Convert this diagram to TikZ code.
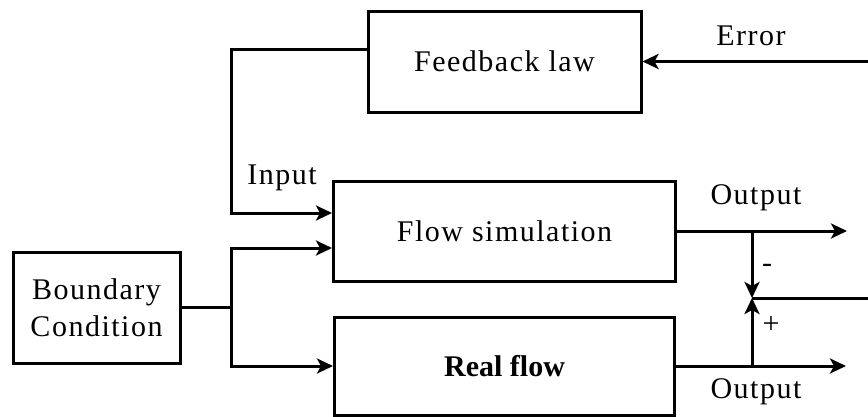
\documentclass[tikz,border=0pt]{standalone}
\usepackage{fontspec}
\setmainfont{Liberation Serif}
\usetikzlibrary{positioning,arrows.meta}
\tikzset{
  line/.style={-{Stealth[length=16pt,width=15pt,inset=4pt]}, line width=3pt},
  wire/.style={line width=3pt},
  txt/.style={font=\fontsize{30}{37}\selectfont\addfontfeature{LetterSpace=5}, inner sep=0pt},
  box/.style={draw, line width=3pt, align=center, inner sep=3pt, txt},
  fbbox/.style={box, minimum width=273pt, minimum height=101pt},
  simbox/.style={box, minimum width=342pt, minimum height=100pt},
  bcbox/.style={box, minimum width=167pt, minimum height=111pt}
}

\begin{document}
\begin{tikzpicture}[x=1pt, y=1pt]
  \useasboundingbox (0,0) rectangle (868,-416);

  \node[fbbox] (fb) at (504.5,-61.5) {Feedback law};
  \node[simbox, below=66pt of fb] (sim) {Flow simulation};
  \node[simbox, minimum width=340pt, minimum height=98pt, below=33pt of sim,
        font=\fontsize{30}{37}\selectfont\bfseries] (real) {Real flow};
  \node[bcbox] (bc) at (96.5,-307.5) {Boundary\\Condition};

  % junctions
  \coordinate (split) at ([xshift=50pt]bc.east);
  \coordinate (simin1) at ([yshift=18pt]sim.west);
  \coordinate (simin2) at ([yshift=-17pt]sim.west);
  \coordinate (simout) at ([xshift=170pt]sim.east);
  \coordinate (realout) at ([xshift=170pt]real.east);
  \coordinate (cmp) at (752,-298);
  \coordinate (cmpout) at (868,-298);
  \coordinate (errin) at ([xshift=226pt]fb.east);

  % labels
  \node[txt] (errlbl) at (751,-36) {Error};
  \node[txt] (inlbl) at (282,-178) {Input};
  \node[txt] (out1) at (756,-198) {Output};
  \node[txt] (out2) at (756,-392) {Output};
  \node[txt] (minus) at (767,-268) {-};
  \node[txt] (plus) at (771,-325) {+};

  \draw[line] (errin) -- (fb.east);
  \draw[line] ([yshift=12.5pt]fb.west) -| (split |- simin1) -- (simin1);
  \draw[wire] (bc.east) -- (split);
  \draw[line] (split) |- (simin2);
  \draw[line] (split) |- (real.west);
  \draw[line] (sim.east) -- (simout);
  \draw[line] (real.east) -- (realout);
  \draw[line] (cmp |- sim.east) -- (cmp);
  \draw[line] (cmp |- real.east) -- (cmp);
  \draw[wire] (cmp) -- (cmpout);
\end{tikzpicture}
\end{document}
